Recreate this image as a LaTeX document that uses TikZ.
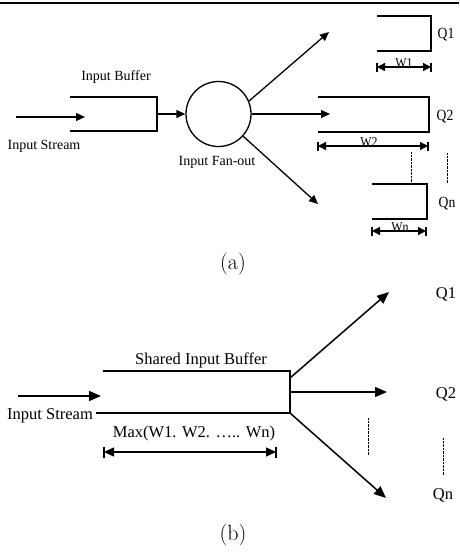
\documentclass[tikz,border=0pt]{standalone}
\usepackage{fontspec}
\newfontfamily\tms{Liberation Serif}
\newfontfamily\tmsc[FakeStretch=0.88]{Liberation Serif}
\usetikzlibrary{arrows.meta}
\begin{document}
\begin{tikzpicture}[x=1pt,y=-1pt,
  lineA/.style={line width=1.3pt},
  lineB/.style={line width=1.4pt},
  arrA/.style={line width=1.3pt,-{Triangle[length=9pt,width=8pt]}},
  arrB/.style={line width=1.5pt,-{Triangle[length=12pt,width=10pt]}},
  dimA/.style={line width=1.3pt,{Triangle[length=8pt,width=8pt]}-{Triangle[length=8pt,width=8pt]}},
  dimB/.style={line width=1.4pt,{Triangle[length=10pt,width=9pt]}-{Triangle[length=10pt,width=9pt]}},
  lblA/.style={inner sep=0pt,anchor=base,font=\tms\fontsize{14}{16}\selectfont},
  qA/.style={inner sep=0pt,anchor=base,font=\tmsc\fontsize{15.5}{18}\selectfont},
  wA/.style={inner sep=0pt,anchor=base,font=\tmsc\fontsize{13.5}{15}\selectfont},
  lblB/.style={inner sep=0pt,anchor=base,font=\tms\fontsize{16.5}{19}\selectfont},
  captxt/.style={inner sep=0pt,font=\fontsize{22}{26}\selectfont},
  dotl/.style={line width=0.8pt,dash pattern=on 0.7pt off 0.7pt}
]
\useasboundingbox (0,0) rectangle (459,552);
% top rule
\coordinate (ruleL) at (0,3);
\coordinate (ruleR) at (459,3);
\draw[line width=1.6pt] (ruleL) -- (ruleR);

% ================= panel (a) =================
\coordinate (isA0) at (16,117);
\coordinate (isA1) at (85,117);
\draw[arrA] (isA0) -- (isA1);
% input buffer
\coordinate (bufAtl) at (70,97);
\coordinate (bufAtr) at (157,97);
\coordinate (bufAbr) at (157,131);
\coordinate (bufAbl) at (70,131);
\coordinate (bufAout) at (157,114);
\draw[lineA] (bufAtl) -- (bufAtr) -- (bufAbr) -- (bufAbl);
\node[lblA] (tIB) at (116,80) {Input Buffer};
\node[lblA] (tISa) at (44,149) {Input Stream};
% fan-out
\node[draw,circle,lineA,minimum size=65pt,inner sep=0pt] (fan) at (218.5,114) {};
\node[lblA] (tFan) at (217,165) {Input Fan-out};
\draw[arrA] (bufAout) -- (fan.west);
\coordinate (q1in) at (329,32);
\coordinate (q2in) at (330,114);
\coordinate (qnin) at (318,204);
\draw[arrA] (fan.23) -- (q1in);
\draw[arrA] (fan.east) -- (q2in);
\draw[arrA] (fan.-42) -- (qnin);
% queues
\draw[lineA] (377,16) -- (431,16) -- (431,51) -- (377,51);
\draw[lineA] (318,97) -- (429,97) -- (429,132) -- (318,132);
\draw[lineA] (372,184) -- (427,184) -- (427,219) -- (372,219);
\node[qA] (tQ1a) at (446,38) {Q1};
\node[qA] (tQ2a) at (445,120) {Q2};
\node[qA] (tQna) at (447,207) {Qn};
% dimensions
\coordinate (w1L) at (377,67); \coordinate (w1R) at (431,67);
\draw[dimA] (w1L) -- (w1R);
\draw[lineA] (377,62.5) -- (377,71.5) (431,62.5) -- (431,71.5);
\node[wA] (tW1) at (404,67.5) {W1};
\coordinate (w2L) at (318,146); \coordinate (w2R) at (428,146);
\draw[dimA] (w2L) -- (w2R);
\draw[lineA] (318,141.5) -- (318,150.5) (428,141.5) -- (428,150.5);
\node[wA] (tW2) at (369,146.5) {W2};
\coordinate (wnL) at (372,231); \coordinate (wnR) at (426,231);
\draw[dimA] (wnL) -- (wnR);
\draw[lineA] (372,226.5) -- (372,235.5) (426,226.5) -- (426,235.5);
\node[wA] (tWn) at (400,231.5) {Wn};
\draw[dotl] (411,152) -- (411,183);
\draw[dotl] (447,153) -- (447,183);
\node[captxt] (capA) at (233,264) {(a)};

% ================= panel (b) =================
\coordinate (isB0) at (18,396);
\coordinate (isB1) at (101,396);
\draw[arrB] (isB0) -- (isB1);
\coordinate (bufBtl) at (103,371);
\coordinate (bufBtr) at (290,371);
\coordinate (bufBbr) at (290,413);
\coordinate (bufBbl) at (96,413);
\draw[lineB] (bufBtl) -- (bufBtr) -- (bufBbr) -- (bufBbl);
\node[lblB] (tSIB) at (201,364) {Shared Input Buffer};
\node[lblB] (tISb) at (50,419) {Input Stream};
\node[lblB] (tMax) at (194,437) {Max(W1. W2. ….. Wn)};
\coordinate (mL) at (104,452); \coordinate (mR) at (276,452);
\draw[dimB] (mL) -- (mR);
\draw[lineB] (104,446.5) -- (104,457.5) (276,446.5) -- (276,457.5);
\coordinate (o1) at (290,378);
\coordinate (o2) at (291,392);
\coordinate (o3) at (290,413);
\coordinate (p1) at (389,292);
\coordinate (p2) at (387,392);
\coordinate (p3) at (386,498);
\draw[arrB] (o1) -- (p1);
\draw[arrB] (o2) -- (p2);
\draw[arrB] (o3) -- (p3);
\node[lblB] (tQ1b) at (446,298) {Q1};
\node[lblB] (tQ2b) at (446,398) {Q2};
\node[lblB] (tQnb) at (443,499) {Qn};
\draw[dotl] (368,418) -- (368,455);
\draw[dotl] (443,438) -- (443,475);
\node[captxt] (capB) at (233,535) {(b)};
\end{tikzpicture}
\end{document}
